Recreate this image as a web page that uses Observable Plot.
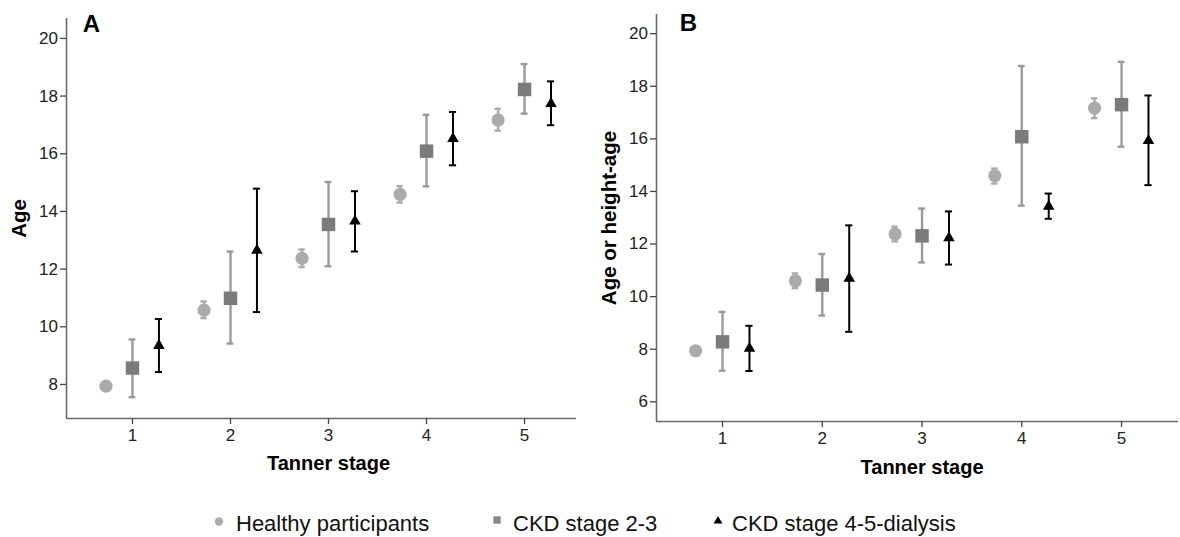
<!DOCTYPE html>
<html>
<head>
<meta charset="utf-8">
<script src="https://cdn.jsdelivr.net/npm/d3@7"></script>
<script src="https://cdn.jsdelivr.net/npm/@observablehq/plot@0.6"></script>
<style>
  body { margin: 0; background: #fff; }
  #root { position: relative; width: 1180px; height: 537px; overflow: hidden; font-family: "Liberation Sans", Arial, sans-serif; }
  #panelA, #panelB { position: absolute; top: 0; }
  #panelA { left: 0; }
  #panelB { left: 590px; }
  #legend { position: absolute; left: 0; top: 500px; }
</style>
</head>
<body>
<div id="root">
  <div id="panelA"></div>
  <div id="panelB"></div>
  <div id="legend"></div>
</div>
<script>
// ---------- data ----------
const stages = [1, 2, 3, 4, 5];
const groups = ["Healthy participants", "CKD stage 2-3", "CKD stage 4-5-dialysis"];

// Panel A: Age
const aHealthyMean = [7.94, 10.58, 12.37, 14.59, 17.17];
const aHealthyLo   = [7.84, 10.30, 12.07, 14.31, 16.80];
const aHealthyHi   = [8.04, 10.88, 12.68, 14.88, 17.56];
const aCkd23Mean   = [8.57, 10.99, 13.55, 16.09, 18.23];
const aCkd23Lo     = [7.56, 9.42, 12.10, 14.87, 17.39];
const aCkd23Hi     = [9.56, 12.61, 15.02, 17.35, 19.11];
const aCkd45Mean   = [9.35, 12.65, 13.66, 16.52, 17.74];
const aCkd45Lo     = [8.43, 10.51, 12.61, 15.60, 16.99];
const aCkd45Hi     = [10.27, 14.79, 14.70, 17.45, 18.51];

// Panel B: Age or height-age
const bHealthyMean = [7.94, 10.60, 12.38, 14.60, 17.17];
const bHealthyLo   = [7.84, 10.32, 12.10, 14.30, 16.79];
const bHealthyHi   = [8.04, 10.88, 12.66, 14.87, 17.54];
const bCkd23Mean   = [8.28, 10.44, 12.31, 16.08, 17.30];
const bCkd23Lo     = [7.18, 9.28, 11.30, 13.46, 15.70];
const bCkd23Hi     = [9.42, 11.62, 13.35, 18.77, 18.93];
const bCkd45Mean   = [8.03, 10.69, 12.23, 13.43, 15.93];
const bCkd45Lo     = [7.17, 8.66, 11.22, 12.96, 14.24];
const bCkd45Hi     = [8.89, 12.71, 13.24, 13.92, 17.65];

const aTicks = [8, 10, 12, 14, 16, 18, 20];
const bTicks = [6, 8, 10, 12, 14, 16, 18, 20];

// ---------- styling ----------
const offsets = [-0.27, 0, 0.27];
const symbols = ["circle", "square", "triangle"];
const fills = ["#ababab", "#7b7b7b", "#000000"];
const barColors = ["#ababab", "#9a9a9a", "#000000"];
const barWidths = [2.4, 2.4, 2];
const radii = [6.6, 7.6, 4.3];
const capPx = [3.2, 3.4, 3.6];
const FONT = "'Liberation Sans', Arial, Helvetica, sans-serif";

function buildRows(series) {
  const rows = [];
  series.forEach(([mean, lo, hi], g) => {
    stages.forEach((s, i) => {
      rows.push({ group: groups[g], g, stage: s, x: s + offsets[g], mean: mean[i], lo: lo[i], hi: hi[i] });
    });
  });
  return rows;
}

const rowsA = buildRows([[aHealthyMean, aHealthyLo, aHealthyHi], [aCkd23Mean, aCkd23Lo, aCkd23Hi], [aCkd45Mean, aCkd45Lo, aCkd45Hi]]);
const rowsB = buildRows([[bHealthyMean, bHealthyLo, bHealthyHi], [bCkd23Mean, bCkd23Lo, bCkd23Hi], [bCkd45Mean, bCkd45Lo, bCkd45Hi]]);

function panel(opt) {
  const W = 590, H = 485, ml = 66;
  const pxPerUnit = (W - ml - opt.marginRight) / (opt.xDomain[1] - opt.xDomain[0]);
  const marks = [
    Plot.ruleX([opt.xDomain[0]], { y1: opt.yDomain[0], y2: opt.yDomain[1], stroke: "#6a6a6a", strokeWidth: 1.6 }),
    Plot.ruleY([opt.yDomain[0]], { stroke: "#6a6a6a", strokeWidth: 1.6 }),
    Plot.axisY({ ticks: opt.yTicks, tickSize: 6, tickPadding: 2.5, fontSize: 17, label: null, stroke: "#444", fill: "#222", strokeWidth: 1.3 }),
    Plot.axisX({ ticks: stages, tickFormat: d => String(d), tickSize: 6, tickPadding: 4, fontSize: 17, label: null, stroke: "#444", fill: "#222", strokeWidth: 1.3 })
  ];
  groups.forEach((name, g) => {
    const data = opt.rows.filter(d => d.g === g);
    const cap = capPx[g] / pxPerUnit;
    marks.push(
      Plot.ruleX(data, { x: "x", y1: "lo", y2: "hi", stroke: barColors[g], strokeWidth: barWidths[g] }),
      Plot.ruleY(data, { y: "hi", x1: d => d.x - cap, x2: d => d.x + cap, stroke: barColors[g], strokeWidth: barWidths[g] }),
      Plot.ruleY(data, { y: "lo", x1: d => d.x - cap, x2: d => d.x + cap, stroke: barColors[g], strokeWidth: barWidths[g] })
    );
  });
  groups.forEach((name, g) => {
    const data = opt.rows.filter(d => d.g === g);
    marks.push(Plot.dot(data, { x: "x", y: "mean", symbol: () => symbols[g], r: radii[g], fill: fills[g], stroke: "none" }));
  });
  marks.push(
    Plot.text([opt.letter], { text: d => d, frameAnchor: "top-left", dx: opt.letterDx, dy: opt.letterDy, fontSize: 24, fontWeight: "bold", textAnchor: "middle", lineAnchor: "middle", fill: "#000" }),
    Plot.text([opt.ylabel], { text: d => d, frameAnchor: "left", rotate: -90, dx: opt.ylabelDx, fontSize: 20.5, fontWeight: "bold", fill: "#000", textAnchor: "middle", lineAnchor: "middle" }),
    Plot.text([{ s: 3, label: "Tanner stage" }], { x: "s", text: "label", frameAnchor: "bottom", dy: opt.xlabelDy, fontSize: 20, fontWeight: "bold", fill: "#000", lineAnchor: "middle" })
  );
  return Plot.plot({
    width: W,
    height: H,
    marginLeft: ml,
    marginRight: opt.marginRight,
    marginTop: opt.marginTop,
    marginBottom: opt.marginBottom,
    style: { fontFamily: FONT, fontSize: "17px", color: "#222", background: "white", overflow: "visible" },
    symbol: { type: "identity" },
    x: { domain: opt.xDomain, label: null },
    y: { domain: opt.yDomain, label: null },
    marks
  });
}

document.getElementById("panelA").appendChild(panel({
  rows: rowsA, xDomain: [0.327, 5.53], yDomain: [6.82, 20.69], yTicks: aTicks,
  marginTop: 18, marginBottom: 67, marginRight: 14,
  letter: "A", letterDx: 25, letterDy: 5.5, ylabel: "Age", ylabelDx: -47, xlabelDy: 45
}));
document.getElementById("panelB").appendChild(panel({
  rows: rowsB, xDomain: [0.338, 5.571], yDomain: [5.25, 20.73], yTicks: bTicks,
  marginTop: 14, marginBottom: 64, marginRight: 2,
  letter: "B", letterDx: 32, letterDy: 9, ylabel: "Age or height-age", ylabelDx: -47.5, xlabelDy: 46
}));

// ---------- legend ----------
const legendItems = [
  { label: groups[0], mx: 219, tx: 236, symbol: d3.symbolCircle, size: Math.PI * 4.2 * 4.2, fill: fills[0], my: 21.5 },
  { label: groups[1], mx: 497, tx: 513, symbol: d3.symbolSquare, size: 7.4 * 7.4, fill: "#888888", my: 20 },
  { label: groups[2], mx: 718, tx: 732, symbol: d3.symbolTriangle, size: 34, fill: "#000", my: 21 }
];
const lsvg = d3.select("#legend").append("svg").attr("width", 1180).attr("height", 37);
lsvg.selectAll("path").data(legendItems).join("path")
  .attr("transform", d => `translate(${d.mx},${d.my})`)
  .attr("d", d => d3.symbol(d.symbol, d.size)())
  .attr("fill", d => d.fill);
lsvg.selectAll("text").data(legendItems).join("text")
  .attr("x", d => d.tx).attr("y", 31)
  .attr("font-family", FONT).attr("font-size", 22).attr("fill", "#111")
  .text(d => d.label);
</script>
</body>
</html>
